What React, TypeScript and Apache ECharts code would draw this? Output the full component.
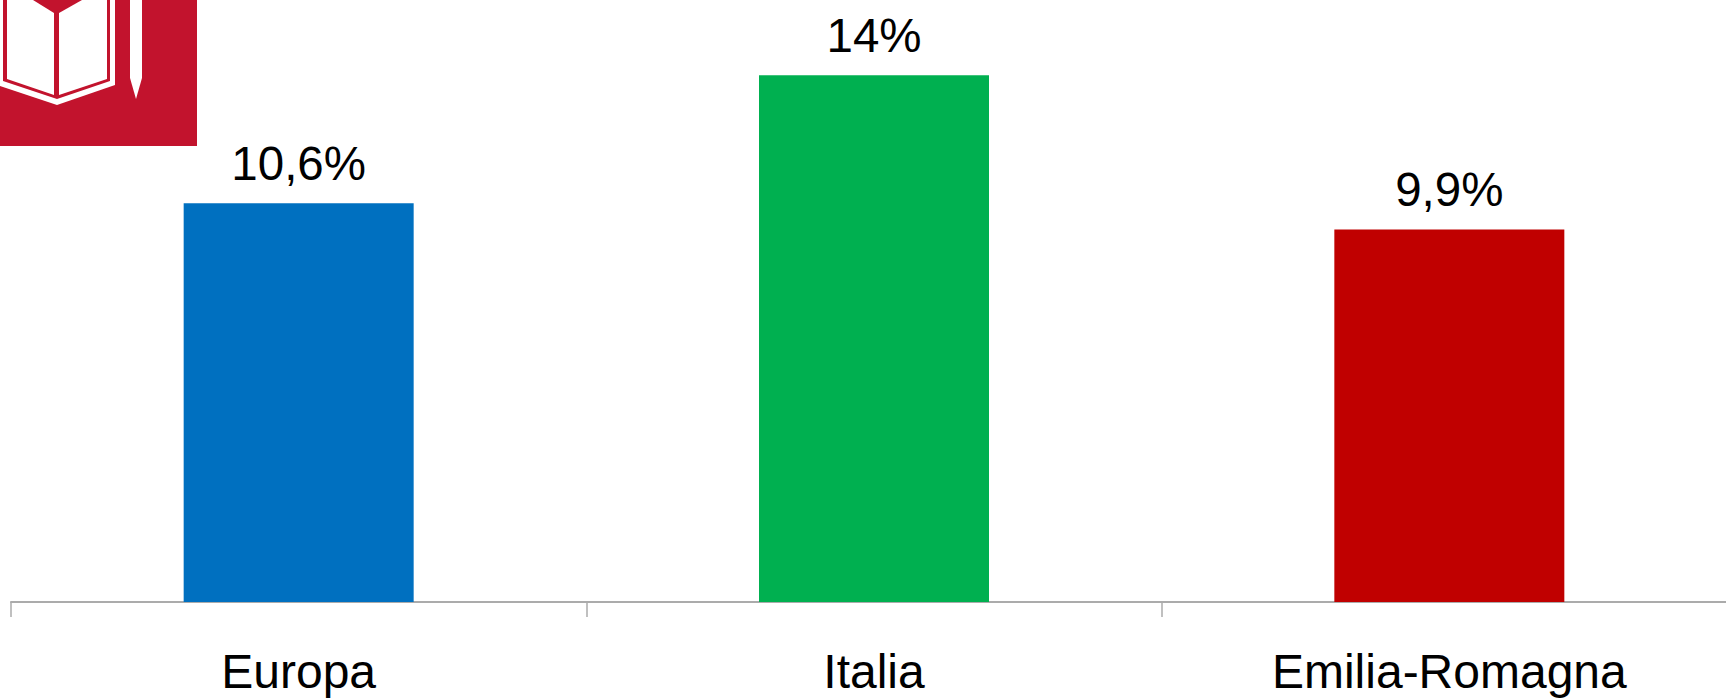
import React, { useEffect, useRef } from "react";
import * as echarts from "echarts";

const categories = ["Europa", "Italia", "Emilia-Romagna"];
const values = [10.6, 14, 9.9];
const valueLabels = ["10,6%", "14%", "9,9%"];
const barColors = ["#0070C0", "#00B050", "#C00000"];

const FONT = "'Liberation Sans', Arial, sans-serif";
const ICON_RED = "#C2132D";

export default function App() {
  const ref = useRef<HTMLDivElement>(null);
  useEffect(() => {
    document.body.style.margin = "0";
    const chart = echarts.init(ref.current!, null, { renderer: "svg" });
    chart.setOption({
      animation: false,
      backgroundColor: "#ffffff",
      grid: { left: 11, width: 1726, top: 0, height: 602, containLabel: false, outerBoundsMode: "none" },
      xAxis: {
        type: "category",
        data: categories,
        axisLine: { show: true, lineStyle: { color: "#ABABAB", width: 2 } },
        axisTick: { show: true, length: 15, lineStyle: { color: "#ABABAB", width: 1.5 } },
        axisLabel: { color: "#000000", fontSize: 48, lineHeight: 48, fontFamily: FONT, margin: 45, interval: 0 },
      },
      yAxis: { type: "value", min: 0, max: 16, show: false, splitLine: { show: false } },
      series: [
        {
          type: "bar",
          barWidth: 230,
          data: values.map((v, i) => ({ value: v, itemStyle: { color: barColors[i] } })),
          label: {
            show: true,
            position: "top",
            distance: 16,
            color: "#000000",
            fontSize: 47.5,
            fontFamily: FONT,
            formatter: (p: any) => valueLabels[p.dataIndex],
          },
        },
      ],
      graphic: [
        { type: "rect", shape: { x: 0, y: 0, width: 197, height: 146 }, style: { fill: ICON_RED }, z: 10 },
        { type: "polygon", shape: { points: [[0, 0], [115, 0], [115, 85], [57, 105], [0, 86]] }, style: { fill: "#ffffff" }, z: 11 },
        { type: "polygon", shape: { points: [[3, 0], [110, 0], [110, 81], [57, 99], [3, 81]] }, style: { fill: ICON_RED }, z: 12 },
        { type: "polygon", shape: { points: [[7, 0], [33, 0], [54, 13], [54, 95], [7, 79]] }, style: { fill: "#ffffff" }, z: 13 },
        { type: "polygon", shape: { points: [[59, 13], [82, 0], [107, 0], [107, 79], [59, 95]] }, style: { fill: "#ffffff" }, z: 13 },
        { type: "polygon", shape: { points: [[130, 0], [142, 0], [142, 78], [136, 99], [130, 78]] }, style: { fill: "#ffffff" }, z: 13 },
      ],
    });
    return () => chart.dispose();
  }, []);
  return <div ref={ref} style={{ width: 1726, height: 698 }} />;
}
